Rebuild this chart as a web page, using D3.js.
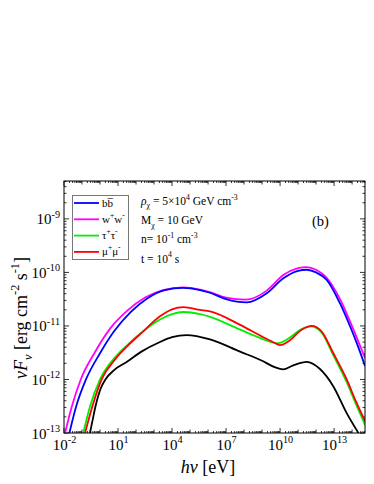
<!DOCTYPE html>
<html>
<head>
<meta charset="utf-8">
<script src="https://cdn.jsdelivr.net/npm/d3@7"></script>
<style>
  body { margin: 0; background: #fff; }
  svg text { font-family: "Liberation Serif", "Times New Roman", serif; fill: #000; }
</style>
</head>
<body>
<svg id="chart" width="374" height="484"></svg>
<script>
// values, as log10(hν / eV) and log10(νFν)
var bbLogE = [-1.7, -1.33, -0.78, 0.0, 0.78, 1.7, 2.6, 3.6, 4.6, 5.56, 6.11, 7.0, 8.15, 9.26, 10.18, 11.0, 11.48, 12.0, 12.59, 13.33, 13.89, 14.26, 14.72];
var bbLogF = [-13.0, -12.51, -12.0, -11.51, -11.1, -10.74, -10.49, -10.33, -10.29, -10.33, -10.38, -10.5, -10.56, -10.39, -10.11, -9.97, -9.95, -10.0, -10.14, -10.58, -11.01, -11.32, -11.75];

var wwLogE = [-1.94, -1.57, -1.07, -0.3, 0.56, 1.5, 2.5, 3.5, 4.6, 5.56, 6.11, 7.0, 8.1, 9.26, 10.18, 11.0, 11.48, 12.0, 12.59, 13.33, 13.89, 14.26, 14.72];
var wwLogF = [-13.0, -12.51, -12.0, -11.5, -11.05, -10.72, -10.47, -10.33, -10.28, -10.32, -10.37, -10.47, -10.51, -10.34, -10.05, -9.92, -9.9, -9.95, -10.1, -10.5, -10.92, -11.22, -11.6];

var ttLogE = [-0.93, -0.56, 0.0, 0.8, 1.6, 2.4, 3.33, 4.0, 4.63, 5.56, 6.11, 7.78, 9.0, 9.6, 9.95, 10.4, 11.2, 11.7, 12.3, 12.96, 13.7, 14.2, 14.72];
var ttLogF = [-13.0, -12.51, -12.0, -11.6, -11.33, -11.1, -10.88, -10.78, -10.74, -10.78, -10.83, -11.07, -11.24, -11.31, -11.32, -11.25, -11.06, -11.01, -11.12, -11.55, -12.05, -12.45, -12.85];

var mmLogE = [-0.83, -0.43, 0.09, 0.85, 1.6, 2.4, 3.33, 4.0, 4.63, 5.56, 6.11, 7.78, 9.0, 9.6, 10.0, 10.5, 11.2, 11.76, 12.3, 12.96, 13.7, 14.2, 14.72];
var mmLogF = [-13.0, -12.51, -12.0, -11.62, -11.35, -11.1, -10.82, -10.69, -10.65, -10.7, -10.73, -10.98, -11.2, -11.3, -11.36, -11.28, -11.07, -11.0, -11.1, -11.51, -12.0, -12.4, -12.78];

var blackLogE = [-0.56, -0.4, -0.25, 0.0, 0.3, 0.8, 1.5, 2.3, 3.33, 4.0, 4.81, 6.11, 7.78, 9.0, 9.7, 10.18, 10.7, 11.48, 12.2, 12.96, 13.7, 14.35];
var blackLogF = [-13.0, -12.74, -12.5, -12.2, -12.0, -11.82, -11.67, -11.48, -11.3, -11.21, -11.17, -11.25, -11.48, -11.65, -11.77, -11.81, -11.74, -11.67, -11.8, -12.13, -12.63, -13.0];

var xTickExp = [-2, 1, 4, 7, 10, 13];
var yTickExp = [-13, -12, -11, -10, -9];
var xDomain = [1e-2, 5.2e14];
var yDomain = [1e-13, 5.1e-9];

var series = [
  { name: "ww", label: [["w", ""], ["+", "sup"], ["w", ""], ["-", "sup"]], color: "#ff00ff", e: wwLogE, f: wwLogF },
  { name: "bb", label: null, color: "#0000ff", e: bbLogE, f: bbLogF },
  { name: "tt", label: [["τ", ""], ["+", "sup"], ["τ", ""], ["-", "sup"]], color: "#00ee00", e: ttLogE, f: ttLogF },
  { name: "mm", label: [["μ", ""], ["+", "sup"], ["μ", ""], ["-", "sup"]], color: "#ff0000", e: mmLogE, f: mmLogF },
  { name: "black", label: null, color: "#000000", e: blackLogE, f: blackLogF }
];

var svg = d3.select("#chart");
var plotL = 64, plotR = 365, plotT = 181, plotB = 433;

var x = d3.scaleLog().domain(xDomain).range([plotL, plotR]);
var y = d3.scaleLog().domain(yDomain).range([plotB, plotT]);

// writes text parts with superscripts / subscripts as tspans
function rich(sel, parts, size) {
  var shift = 0;
  parts.forEach(function(p) {
    var t = sel.append("tspan").text(p[0]);
    var want = p[1] == "sup" ? -0.45 * size : p[1] == "sub" ? 0.3 * size : 0;
    if (want != shift) t.attr("dy", want - shift);
    shift = want;
    if (p[1]) t.attr("font-size", size * 0.68);
    if (p[2]) t.attr("font-style", p[2]);
  });
}

svg.append("clipPath").attr("id", "clip")
  .append("rect").attr("x", plotL).attr("y", plotT).attr("width", plotR - plotL).attr("height", plotB - plotT);

// minor ticks
function minors(lo, hi) {
  var out = [];
  for (var e = lo; e <= hi; e++)
    for (var m = 1; m < 10; m++) out.push(m * Math.pow(10, e));
  return out;
}
var xMinor = minors(-2, 14).filter(function(v) { return v >= xDomain[0] && v <= xDomain[1]; });
var yMinor = minors(-13, -9).filter(function(v) { return v >= yDomain[0] && v <= yDomain[1]; });

var tickG = svg.append("g").attr("stroke", "#000").attr("stroke-width", 0.8);
xMinor.forEach(function(v) {
  var isDec = Math.abs(Math.log10(v) - Math.round(Math.log10(v))) < 1e-9;
  var isMajor = isDec && xTickExp.indexOf(Math.round(Math.log10(v))) >= 0;
  var len = isMajor ? 5 : isDec ? 3.5 : 2;
  tickG.append("line").attr("x1", x(v)).attr("x2", x(v)).attr("y1", plotB).attr("y2", plotB - len);
  tickG.append("line").attr("x1", x(v)).attr("x2", x(v)).attr("y1", plotT).attr("y2", plotT + len);
});
yMinor.forEach(function(v) {
  var isDec = Math.abs(Math.log10(v) - Math.round(Math.log10(v))) < 1e-9;
  var len = isDec ? 5 : 2.5;
  tickG.append("line").attr("y1", y(v)).attr("y2", y(v)).attr("x1", plotL).attr("x2", plotL + len);
  tickG.append("line").attr("y1", y(v)).attr("y2", y(v)).attr("x1", plotR).attr("x2", plotR - len);
});

// axes with labels only
var xAxis = d3.axisBottom(x).tickValues(xTickExp.map(function(e) { return Math.pow(10, e); }))
  .tickSize(0).tickFormat("");
var gx = svg.append("g").attr("transform", "translate(0," + plotB + ")").call(xAxis);
gx.select(".domain").remove();
gx.selectAll(".tick").each(function(d, i) {
  var t = d3.select(this).append("text").attr("y", 17).attr("text-anchor", "middle")
    .attr("font-size", 15);
  rich(t, [["10", ""], [String(xTickExp[i]), "sup"]], 15);
});

var yAxis = d3.axisLeft(y).tickValues(yTickExp.map(function(e) { return Math.pow(10, e); }))
  .tickSize(0).tickFormat("");
var gy = svg.append("g").attr("transform", "translate(" + plotL + ",0)").call(yAxis);
gy.select(".domain").remove();
gy.selectAll(".tick").each(function(d, i) {
  var t = d3.select(this).append("text").attr("x", -4).attr("y", 5).attr("text-anchor", "end")
    .attr("font-size", 15);
  rich(t, [["10", ""], [String(yTickExp[i]), "sup"]], 15);
});

// curves
var line = d3.line()
  .x(function(d) { return x(Math.pow(10, d[0])); })
  .y(function(d) { return y(Math.pow(10, d[1])); })
  .curve(d3.curveMonotoneX);

var curveG = svg.append("g").attr("clip-path", "url(#clip)");
series.forEach(function(s) {
  var pts = s.e.map(function(e, i) { return [e, s.f[i]]; });
  curveG.append("path").attr("d", line(pts))
    .attr("fill", "none").attr("stroke", s.color).attr("stroke-width", 1.8);
});

// frame
svg.append("rect").attr("x", plotL).attr("y", plotT).attr("width", plotR - plotL).attr("height", plotB - plotT)
  .attr("fill", "none").attr("stroke", "#000").attr("stroke-width", 1);

// legend
var legendOrder = ["bb", "ww", "tt", "mm"];
var lg = svg.append("g");
lg.append("rect").attr("x", 72.5).attr("y", 195.5).attr("width", 56).attr("height", 64)
  .attr("fill", "#fff").attr("stroke", "#777").attr("stroke-width", 1);
legendOrder.forEach(function(name, i) {
  var s = series.filter(function(d) { return d.name == name; })[0];
  var ly = 203 + i * 16.3;
  lg.append("line").attr("x1", 74).attr("x2", 99).attr("y1", ly).attr("y2", ly)
    .attr("stroke", s.color).attr("stroke-width", 1.8);
  var t = lg.append("text").attr("x", 102).attr("y", ly + 3.5).attr("font-size", 11);
  if (s.label) rich(t, s.label, 11);
  else {
    t.append("tspan").text("b");
    t.append("tspan").text("b\u0305");
  }
});

// annotations
var notes = [
  [["ρ", "", "italic"], ["χ", "sub"], [" = 5×10", ""], ["4", "sup"], [" GeV cm", ""], ["-3", "sup"]],
  [["M", ""], ["χ", "sub"], [" = 10 GeV", ""]],
  [["n= 10", ""], ["-1", "sup"], [" cm", ""], ["-3", "sup"]],
  [["t = 10", ""], ["4", "sup"], [" s", ""]]
];
notes.forEach(function(n, i) {
  var t = svg.append("text").attr("x", 141).attr("y", 205 + i * 19.2).attr("font-size", 11.5);
  rich(t, n, 11.5);
});
svg.append("text").attr("x", 312).attr("y", 226).attr("font-size", 14.5).text("(b)");

// axis titles
var xt = svg.append("text").attr("x", 208).attr("y", 473).attr("text-anchor", "middle").attr("font-size", 18);
rich(xt, [["hν", "", "italic"], [" [eV]", ""]], 18);

var yt = svg.append("text").attr("transform", "translate(27,318) rotate(-90)")
  .attr("text-anchor", "middle").attr("font-size", 18);
rich(yt, [["νF", "", "italic"], ["ν", "sub", "italic"], [" [erg cm", ""], ["-2", "sup"], [" s", ""], ["-1", "sup"], ["]", ""]], 18);
</script>
</body>
</html>
